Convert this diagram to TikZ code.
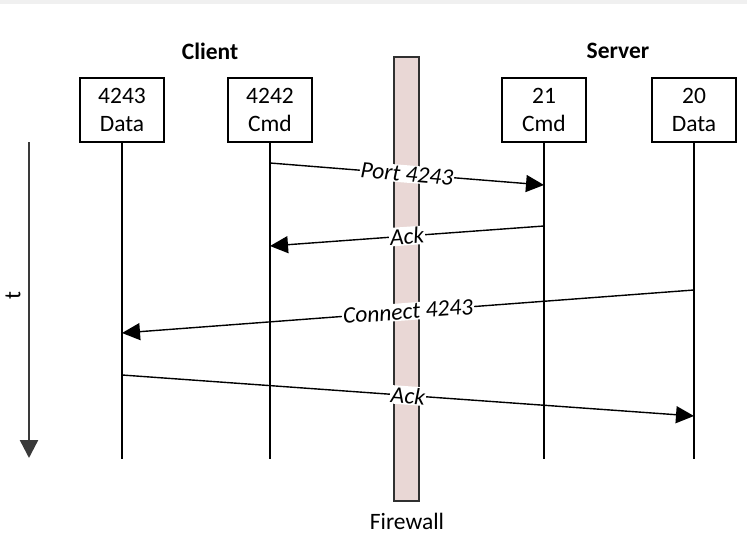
\documentclass[tikz,border=0pt]{standalone}
\usepackage{fontspec}
\setmainfont{Carlito}
\usetikzlibrary{arrows.meta}
\definecolor{fwfill}{HTML}{E9D7D5}
\definecolor{fwdraw}{HTML}{303030}
\definecolor{tcol}{HTML}{3A3A3A}
\begin{document}
\begin{tikzpicture}[x=1pt,y=-1pt,
  every node/.style={font=\fontsize{23.5}{28}\selectfont},
  portbox/.style={draw=black,line width=1.8pt,minimum width=84pt,minimum height=64pt,align=center,inner sep=0pt,fill=white},
  lifeline/.style={draw=black,line width=1.3pt},
  msg/.style={draw=black,line width=1.4pt,-{Triangle[length=18pt,width=17pt]}},
  msglabel/.style={fill=white,inner sep=1pt,font=\fontsize{23.5}{28}\selectfont\itshape,sloped},
  wall/.style={draw=fwdraw,fill=fwfill,line width=1.6pt,minimum width=25pt,minimum height=444pt,inner sep=0pt},
  headlabel/.style={font=\fontsize{23.5}{28}\selectfont\bfseries}]
\useasboundingbox (0,0) rectangle (747,546);
\fill[gray!12] (0,0) rectangle (747,4);
% firewall
\node[wall] (fw) at (406.5,279) {};
\node (fwl) at (407,521) {Firewall};
% headings
\node[headlabel] (client) at (210,51) {Client};
\node[headlabel] (server) at (618,51) {Server};
% boxes
\node[portbox] (cd) at (122,110) {4243\\Data};
\node[portbox] (cc) at (270,110) {4242\\Cmd};
\node[portbox] (sc) at (544,110) {21\\Cmd};
\node[portbox] (sd) at (694,110) {20\\Data};
% lifeline ends
\coordinate (cde) at (122,459);
\coordinate (cce) at (270,459);
\coordinate (sce) at (544,459);
\coordinate (sde) at (694,459);
\draw[lifeline] (cd.south) -- (cde);
\draw[lifeline] (cc.south) -- (cce);
\draw[lifeline] (sc.south) -- (sce);
\draw[lifeline] (sd.south) -- (sde);
% time axis
\coordinate (t0) at (29,142);
\coordinate (t1) at (29,458);
\draw[draw=tcol,line width=2.4pt,-{Triangle[length=18pt,width=18pt]}] (t0) -- (t1);
\node[rotate=90] (tl) at (13,296) {t};
% message points
\coordinate (m1a) at (270,163);
\coordinate (m1b) at (544,185);
\coordinate (m2a) at (544,226);
\coordinate (m2b) at (270,246);
\coordinate (m3a) at (694,290);
\coordinate (m3b) at (122,333);
\coordinate (m4a) at (122,375);
\coordinate (m4b) at (694,416);
\draw[msg] (m1a) -- node[msglabel] (l1) {Port 4243} (m1b);
\draw[msg] (m2a) -- node[msglabel] (l2) {Ack} (m2b);
\draw[msg] (m3a) -- node[msglabel] (l3) {Connect 4243} (m3b);
\draw[msg] (m4a) -- node[msglabel] (l4) {Ack} (m4b);
\end{tikzpicture}
\end{document}
